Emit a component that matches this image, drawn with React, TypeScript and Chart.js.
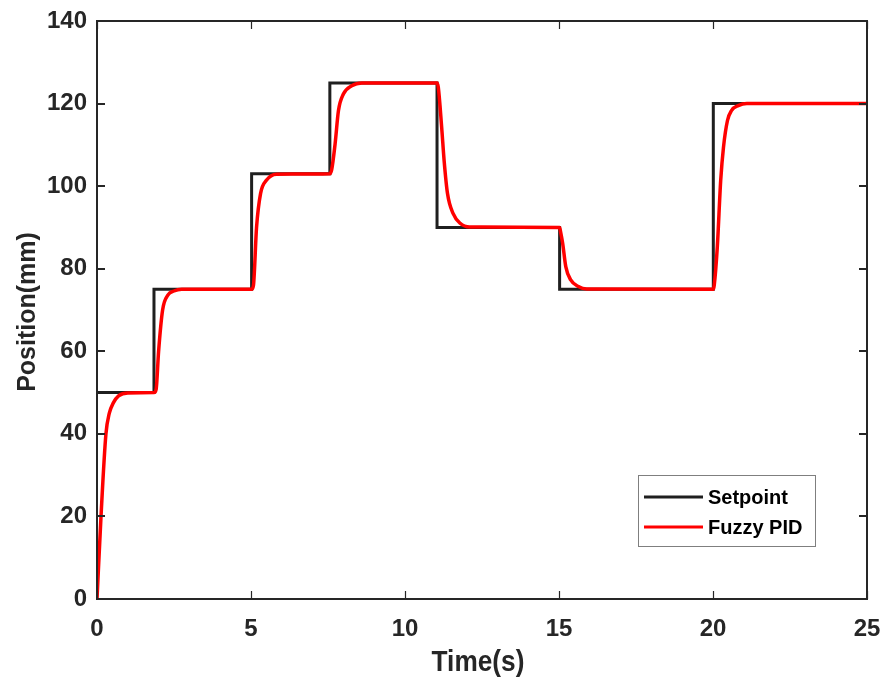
import React, { useEffect, useRef } from "react";
import { Chart, registerables } from "chart.js";

Chart.register(...registerables);

// Setpoint: level changes at these times (stepped "before": step occurs at the target point's x)
const setpointTimes = [0, 1.85, 5.02, 7.56, 11.04, 15.02, 20.01, 25];
const setpointValues = [50, 75, 103, 125, 90, 75, 120, 120];

// Fuzzy PID response
const fuzzyTimes = [
  0, 0.13, 0.29, 0.4, 0.53, 0.7, 1.0, 1.85,
  1.92, 2.0, 2.13, 2.3, 2.5, 2.75, 5.02,
  5.08, 5.18, 5.31, 5.5, 5.83, 7.56,
  7.62, 7.73, 7.84, 8.0, 8.27, 8.6, 11.04,
  11.08, 11.19, 11.27, 11.38, 11.56, 11.79, 12.1, 15.02,
  15.05, 15.12, 15.22, 15.38, 15.63, 15.9, 20.01,
  20.04, 20.14, 20.25, 20.34, 20.47, 20.6, 20.82, 21.1, 25,
];
const fuzzyValues = [
  0, 20, 40, 45, 47.5, 49.2, 49.9, 50,
  50.8, 60, 70, 73.6, 74.6, 75, 75,
  76, 90, 98.2, 101.4, 102.9, 103,
  104, 110.2, 118.3, 122.3, 124.3, 125, 125,
  124, 114.3, 106.2, 98.2, 93.4, 91, 90.1, 90,
  89, 86.1, 80.5, 77.3, 75.7, 75.1, 75,
  76, 85.3, 101.4, 109.4, 115.9, 118.3, 119.5, 120, 120,
];

const seriesLabels = ["Setpoint", "Fuzzy PID"];
const seriesColors = ["#1f1f1f", "#ff0000"];
const xTitle = "Time(s)";
const yTitle = "Position(mm)";
const xMin = 0, xMax = 25, xStep = 5;
const yMin = 0, yMax = 140, yStep = 20;

const TEXT = "#262626";
const FONT = "'Liberation Sans', Arial, sans-serif";

const framePlugin = {
  id: "frame",
  afterDraw(chart: any) {
    const { ctx, chartArea: a, scales } = chart;
    const xs = scales.x, ys = scales.y;
    ctx.save();
    ctx.strokeStyle = TEXT;
    ctx.lineWidth = 2;
    ctx.strokeRect(a.left, a.top, a.right - a.left, a.bottom - a.top);
    const tl = 8;
    ctx.lineWidth = 1.2;
    ctx.beginPath();
    xs.ticks.forEach((t: any) => {
      const px = Math.round(xs.getPixelForValue(t.value)) + 0.5;
      ctx.moveTo(px, a.bottom); ctx.lineTo(px, a.bottom - tl);
      ctx.moveTo(px, a.top); ctx.lineTo(px, a.top + tl);
    });
    ctx.stroke();
    ctx.lineWidth = 2;
    ctx.beginPath();
    ys.ticks.forEach((t: any) => {
      const py = Math.round(ys.getPixelForValue(t.value));
      ctx.moveTo(a.left, py); ctx.lineTo(a.left + tl, py);
      ctx.moveTo(a.right, py); ctx.lineTo(a.right - tl, py);
    });
    ctx.stroke();

    // axis titles
    ctx.fillStyle = TEXT;
    ctx.font = `bold 25px ${FONT}`;
    ctx.textAlign = "center";
    ctx.textBaseline = "middle";
    ctx.save();
    ctx.translate((a.left + a.right) / 2 - 4, 663);
    ctx.scale(1.05, 1.15);
    ctx.fillText(xTitle, 0, 0);
    ctx.restore();
    ctx.save();
    ctx.translate(28, 312);
    ctx.rotate(-Math.PI / 2);
    ctx.fillText(yTitle, 0, 0);
    ctx.restore();

    // legend
    const bx = 638, by = 475, bw = 177, bh = 71;
    ctx.fillStyle = "#ffffff";
    ctx.fillRect(bx, by, bw, bh);
    ctx.strokeStyle = "#7f7f7f";
    ctx.lineWidth = 1;
    ctx.strokeRect(bx + 0.5, by + 0.5, bw, bh);
    const rows = [497, 527];
    ctx.font = `bold 20px ${FONT}`;
    ctx.textAlign = "left";
    chart.data.datasets.forEach((ds: any, i: number) => {
      ctx.strokeStyle = ds.borderColor;
      ctx.lineWidth = 3;
      ctx.beginPath();
      ctx.moveTo(644, rows[i]);
      ctx.lineTo(703, rows[i]);
      ctx.stroke();
      ctx.fillStyle = "#000";
      ctx.fillText(ds.label, 708, rows[i] + 1);
    });
    ctx.restore();
  },
};

export default function App() {
  const ref = useRef<HTMLCanvasElement | null>(null);
  useEffect(() => {
    document.body.style.margin = "0";
    const canvas = ref.current!;
    const chart = new Chart(canvas, {
      type: "line",
      data: {
        datasets: [
          {
            label: seriesLabels[0],
            data: setpointTimes.map((t, i) => ({ x: t, y: setpointValues[i] })),
            borderColor: seriesColors[0],
            borderWidth: 3,
            stepped: "before",
            pointRadius: 0,
            order: 1,
          },
          {
            label: seriesLabels[1],
            data: fuzzyTimes.map((t, i) => ({ x: t, y: fuzzyValues[i] })),
            borderColor: seriesColors[1],
            borderWidth: 3.5,
            cubicInterpolationMode: "monotone",
            pointRadius: 0,
            order: 0,
          },
        ],
      },
      options: {
        animation: false,
        responsive: false,
        layout: { padding: { left: 0, right: 19, top: 21, bottom: 0 } },
        plugins: { legend: { display: false }, tooltip: { enabled: false } },
        scales: {
          x: {
            type: "linear",
            min: xMin,
            max: xMax,
            grid: { display: false, drawTicks: false },
            border: { display: false },
            ticks: {
              stepSize: xStep,
              padding: 16,
              color: TEXT,
              font: { family: FONT, size: 24, weight: "bold" },
              maxRotation: 0,
            },
            afterFit: (s: any) => { s.height = 87; s.paddingLeft = 0; s.paddingRight = 0; },
          },
          y: {
            type: "linear",
            min: yMin,
            max: yMax,
            grid: { display: false, drawTicks: false },
            border: { display: false },
            ticks: {
              stepSize: yStep,
              padding: 10,
              color: TEXT,
              font: { family: FONT, size: 24, weight: "bold" },
            },
            afterFit: (s: any) => { s.width = 97; s.paddingTop = 0; s.paddingBottom = 0; },
          },
        },
      },
      plugins: [framePlugin],
    } as any);
    return () => chart.destroy();
  }, []);
  return (
    <div style={{ width: 886, height: 686 }}>
      <canvas ref={ref} width={886} height={686} />
    </div>
  );
}
